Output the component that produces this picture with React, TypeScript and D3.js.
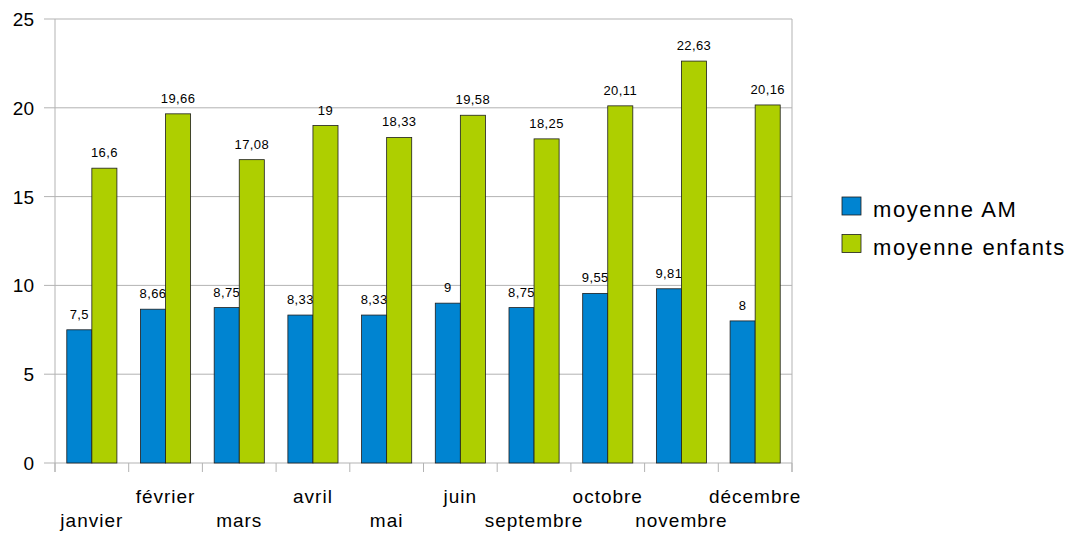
import React from "react";
import * as d3 from "d3";

const months = ["janvier", "février", "mars", "avril", "mai", "juin", "septembre", "octobre", "novembre", "décembre"];
const moyenneAM = [7.5, 8.66, 8.75, 8.33, 8.33, 9, 8.75, 9.55, 9.81, 8];
const moyenneEnfants = [16.6, 19.66, 17.08, 19, 18.33, 19.58, 18.25, 20.11, 22.63, 20.16];
const seriesNames = ["moyenne AM", "moyenne enfants"];
const seriesColors = ["#0084d1", "#aecf00"];
const yTicks = [0, 5, 10, 15, 20, 25];

const W = 1069, H = 533;
const L = 55, R = 792, T = 19, B = 463;
const FONT = "'Liberation Sans', Arial, sans-serif";

export default function App() {
  const x0 = d3.scaleBand<string>().domain(months).range([L, R]).paddingInner(0.32).paddingOuter(0.16);
  const x1 = d3.scaleBand<string>().domain(seriesNames).range([0, x0.bandwidth()]).padding(0);
  const y = d3.scaleLinear().domain([0, 25]).range([B, T]);
  const step = (R - L) / months.length;
  const series = [moyenneAM, moyenneEnfants];
  const fmt = (v: number) => String(v).replace(".", ",");

  return (
    <svg width={W} height={H} style={{ position: "absolute", left: 0, top: 0, background: "#fff" }} fontFamily={FONT}>
      {yTicks.map((t) => (
        <line key={"g" + t} x1={L - 11} x2={R} y1={y(t)} y2={y(t)} stroke="#b3b3b3" strokeWidth={1} />
      ))}
      <line x1={L} x2={L} y1={T} y2={B + 9} stroke="#b3b3b3" />
      <line x1={R} x2={R} y1={T} y2={B + 9} stroke="#b3b3b3" />
      {d3.range(months.length + 1).map((i) => (
        <line key={"xt" + i} x1={L + i * step} x2={L + i * step} y1={B} y2={B + 9} stroke="#b3b3b3" />
      ))}
      {yTicks.map((t) => (
        <text key={"yl" + t} x={34} y={y(t) + 7} textAnchor="end" fontSize={19} fill="#000">{t}</text>
      ))}
      {months.map((m, i) => (
        <g key={m}>
          {series.map((s, k) => {
            const bx = (x0(m) as number) + (x1(seriesNames[k]) as number);
            const bw = x1.bandwidth();
            return (
              <g key={k}>
                <rect x={bx} y={y(s[i])} width={bw} height={B - y(s[i])} fill={seriesColors[k]} stroke="#1d1d1d" strokeWidth={0.8} />
                <text x={bx + bw / 2} y={y(s[i]) - 11} textAnchor="middle" fontSize={13} letterSpacing={0.4} fill="#000">{fmt(s[i])}</text>
              </g>
            );
          })}
          <text x={(x0(m) as number) + x0.bandwidth() / 2} y={i % 2 === 0 ? 527 : 503} textAnchor="middle" fontSize={19} letterSpacing={1} fill="#000">{m}</text>
        </g>
      ))}
      {seriesNames.map((n, k) => (
        <g key={n}>
          <rect x={842} y={197 + k * 37.5} width={19} height={18} fill={seriesColors[k]} stroke="#1d1d1d" strokeWidth={0.8} />
          <text x={873} y={217 + k * 37.5} fontSize={22} letterSpacing={1.6} fill="#000">{n}</text>
        </g>
      ))}
    </svg>
  );
}
